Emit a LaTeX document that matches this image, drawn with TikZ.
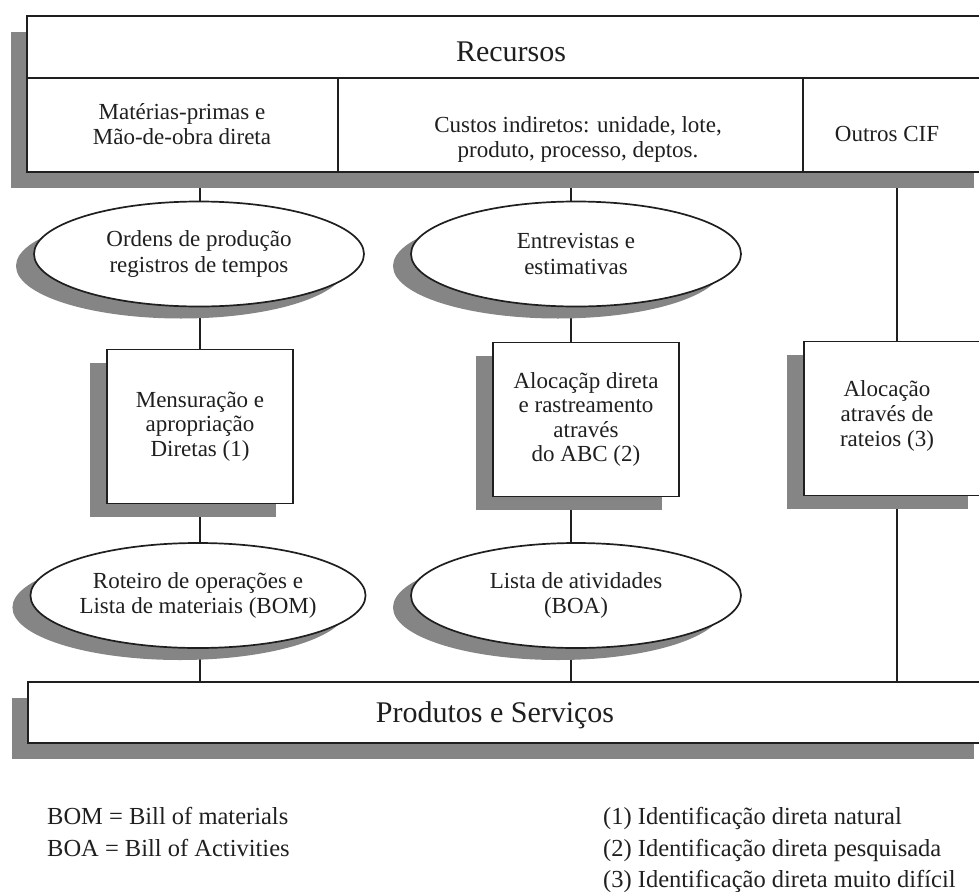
\documentclass[tikz,border=0pt]{standalone}
\usepackage{fontspec}
\setmainfont{Liberation Serif}
\usetikzlibrary{shapes.geometric,shadows}
\pgfdeclarelayer{links}
\pgfsetlayers{links,main}
\definecolor{ink}{gray}{0.12}
\definecolor{shadowgray}{gray}{0.52}

\begin{document}
\begin{tikzpicture}[x=1pt,y=-1pt,
  panel/.style={draw=ink, line width=1.7pt, fill=white, inner sep=0pt},
  bar shadow/.style={drop shadow={shadow xshift=-16pt, shadow yshift=-16pt, fill=shadowgray, opacity=1}},
  box shadow/.style={drop shadow={shadow xshift=-17pt, shadow yshift=-13pt, fill=shadowgray, opacity=1}},
  oval shadow/.style={drop shadow={shadow xshift=-18pt, shadow yshift=-12pt, fill=shadowgray, opacity=1}},
  body/.style={text=ink, align=center, inner sep=0pt, font=\fontsize{23}{25}\selectfont},
  big/.style={text=ink, inner sep=0pt, font=\fontsize{30}{34}\selectfont},
  oval/.style={panel, ellipse, oval shadow, minimum width=330pt, minimum height=105pt,
               align=center, text=ink, font=\fontsize{23}{25.5}\selectfont},
  stepbox/.style={panel, rectangle, box shadow, minimum width=186pt, minimum height=154pt,
               align=center, text=ink, font=\fontsize{23}{24.5}\selectfont},
  legend/.style={text=ink, inner sep=0pt, anchor=base west, font=\fontsize{24.5}{30}\selectfont},
  link/.style={draw=ink, line width=1.7pt}]

\useasboundingbox (0,0) rectangle (979,891);
\clip (0,0) rectangle (979,891);

% column axes of the connectors
\coordinate (lc) at (200,0);
\coordinate (mc) at (571,0);
\coordinate (rc) at (897,0);

% resources bar
\node[panel, bar shadow, minimum width=963pt, minimum height=156pt] (res) at (508.5,94) {};
\draw[link] (res.west |- 0,78) -- (res.east |- 0,78);
\draw[link] (338,78) -- (338,172);
\draw[link] (803,78) -- (803,172);
\node[big, anchor=base] (rectitle) at (511,62) {Recursos};
\node[body] (mat) at (182,124) {Matérias-primas e\\Mão-de-obra direta};
\node[body] (cus) at (578,139) {Custos indiretos: unidade, lote,\\produto, processo, deptos.};
\node[body] (cif) at (887,134) {Outros CIF};

% sources of information
\node[oval] (o1) at (199,254) {Ordens de produção\\registros de tempos};
\node[oval] (o2) at (576,254) {Entrevistas e\\estimativas};

% assignment methods
\node[stepbox] (b1) at (200,426.5) {Mensuração e\\apropriação\\Diretas (1)};
\node[stepbox] (b2) at (586,419.5) {Alocaçãp direta\\e rastreamento\\através\\do ABC (2)};
\node[stepbox, minimum width=181pt] (b3) at (894.5,418.5) {};
\node[body] (b3text) at (887,416) {Alocação\\através de\\rateios (3)};

% routing lists
\node[oval] (o3) at (198,595.5) {Roteiro de operações e\\Lista de materiais (BOM)};
\node[oval] (o4) at (576,595.5) {Lista de atividades\\(BOA)};

% products bar
\node[panel, bar shadow, minimum width=962pt, minimum height=61pt] (prod) at (509,712.5) {};
\node[big, anchor=base] (prodtitle) at (495,722) {Produtos e Serviços};

% connectors
\begin{pgfonlayer}{links}
  \draw[link] (res.south -| lc) -- (o1.north -| lc);
  \draw[link] (o1.south -| lc) -- (b1.north -| lc);
  \draw[link] (b1.south -| lc) -- (o3.north -| lc);
  \draw[link] (o3.south -| lc) -- (prod.north -| lc);
  \draw[link] (res.south -| mc) -- (o2.north -| mc);
  \draw[link] (o2.south -| mc) -- (b2.north -| mc);
  \draw[link] (b2.south -| mc) -- (o4.north -| mc);
  \draw[link] (o4.south -| mc) -- (prod.north -| mc);
  \draw[link] (res.south -| rc) -- (b3.north -| rc);
  \draw[link] (b3.south -| rc) -- (prod.north -| rc);
\end{pgfonlayer}

% legend
\node[legend] (bom) at (47,824) {BOM = Bill of materials};
\node[legend] (boa) at (47,856) {BOA = Bill of Activities};
\node[legend] (n1) at (603,824) {(1) Identificação direta natural};
\node[legend] (n2) at (603,856) {(2) Identificação direta pesquisada};
\node[legend] (n3) at (603,887) {(3) Identificação direta muito difícil};
\end{tikzpicture}
\end{document}
